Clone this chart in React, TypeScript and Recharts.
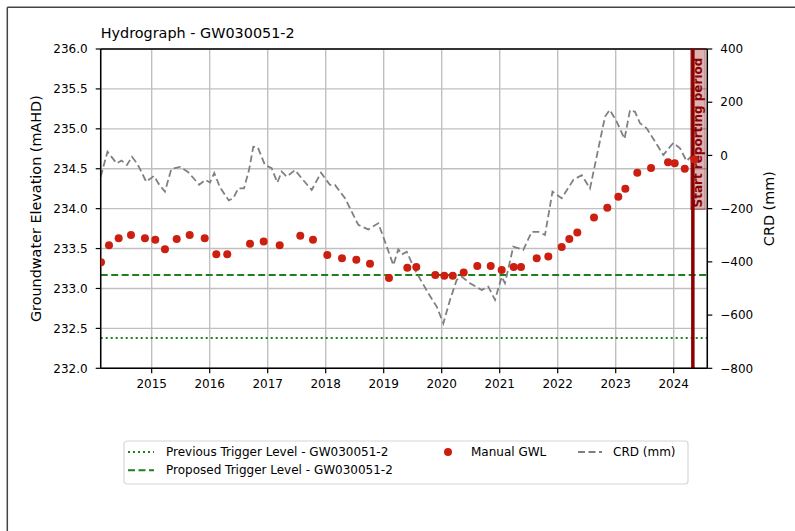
import {
  ComposedChart,
  Line,
  Scatter,
  XAxis,
  YAxis,
  CartesianGrid,
  ReferenceLine,
} from 'recharts'

const FONT = '"DejaVu Sans", Verdana, sans-serif'

// x values are decimal years
const yearTicks = [2015, 2016, 2017, 2018, 2019, 2020, 2021, 2022, 2023, 2024]
const gwlTicks = [232, 232.5, 233, 233.5, 234, 234.5, 235, 235.5, 236]
const crdTicks = [-800, -600, -400, -200, 0, 200, 400]

const gwlDates = [
  2014.126, 2014.264, 2014.431, 2014.643, 2014.884, 2015.062, 2015.229, 2015.431,
  2015.655, 2015.914, 2016.114, 2016.303, 2016.695, 2016.931, 2017.207, 2017.562,
  2017.781, 2018.028, 2018.281, 2018.528, 2018.764, 2019.091, 2019.407, 2019.562,
  2019.89, 2020.045, 2020.19, 2020.379, 2020.614, 2020.845, 2021.034, 2021.241,
  2021.367, 2021.638, 2021.838, 2022.069, 2022.2, 2022.338, 2022.626, 2022.855,
  2023.045, 2023.166, 2023.372, 2023.609, 2023.902, 2024.017, 2024.19, 2024.355,
]
const gwlValues = [
  233.33, 233.54, 233.63, 233.67, 233.63, 233.61, 233.49, 233.62,
  233.67, 233.63, 233.43, 233.43, 233.56, 233.59, 233.54, 233.66,
  233.61, 233.42, 233.38, 233.36, 233.31, 233.13, 233.26, 233.27,
  233.17, 233.16, 233.16, 233.2, 233.28, 233.28, 233.23, 233.27,
  233.27, 233.38, 233.4, 233.52, 233.62, 233.7, 233.89, 234.01,
  234.15, 234.25, 234.45, 234.51, 234.58, 234.57, 234.5, 234.62,
]

const crdDates = [
  2014.121, 2014.238, 2014.397, 2014.479, 2014.574, 2014.66, 2014.755, 2014.907,
  2015.04, 2015.122, 2015.229, 2015.338, 2015.488, 2015.626, 2015.819, 2015.924,
  2016.005, 2016.079, 2016.178, 2016.328, 2016.407, 2016.493, 2016.591, 2016.678,
  2016.752, 2016.828, 2016.953, 2017.069, 2017.166, 2017.241, 2017.328, 2017.471,
  2017.586, 2017.759, 2017.919, 2018.074, 2018.16, 2018.333, 2018.562, 2018.734,
  2018.907, 2019.022, 2019.166, 2019.252, 2019.316, 2019.397, 2019.54, 2019.769,
  2019.914, 2020.028, 2020.143, 2020.259, 2020.345, 2020.488, 2020.69, 2020.803,
  2020.919, 2021.034, 2021.091, 2021.234, 2021.407, 2021.552, 2021.666, 2021.781,
  2021.91, 2022.069, 2022.269, 2022.414, 2022.557, 2022.816, 2022.897, 2023.017,
  2023.152, 2023.247, 2023.333, 2023.419, 2023.534, 2023.821, 2023.993, 2024.109,
  2024.221, 2024.338, 2024.4,
]
const crdValues = [
  -80, 14, -30, -19, -36, -5, -32, -99,
  -77, -107, -136, -51, -43, -62, -110, -92,
  -102, -66, -120, -169, -161, -124, -124, -55,
  33, 31, -36, -48, -102, -61, -80, -55,
  -86, -130, -65, -111, -111, -161, -261, -278,
  -255, -324, -412, -353, -372, -362, -431, -518,
  -568, -631, -543, -468, -456, -480, -506, -493,
  -543, -456, -480, -343, -355, -287, -287, -299,
  -136, -161, -92, -74, -124, 146, 171, 127,
  62, 171, 164, 121, 102, 2, 47, 27,
  -21, 4, 20,
]

const previousTrigger = 232.38
const proposedTrigger = 233.17
const reportingStart = 2024.33
const xDomain = [2014.121, 2024.579]

const gwlData = gwlDates.map((x, i) => ({ x, gwl: gwlValues[i] }))
const crdData = crdDates.map((x, i) => ({ x, crd: crdValues[i] }))

const GREEN = '#1f7f1f'
const RED = '#cc1f10'
const DARKRED = '#8b0000'
const GREY = '#808080'

const tickStyle = { fontSize: 12, fill: '#000', fontFamily: FONT }

function StartLabel(props: any) {
  const { x, y } = props.viewBox
  return (
    <g>
      <rect x={x - 2.2} y={y} width={14.5} height={160.5} fill="rgba(139,0,0,0.3)" stroke="rgba(139,0,0,0.45)" strokeWidth={1} />
      <text
        transform={`translate(${x + 5.6},${y + 158.5}) rotate(-90)`}
        fontSize={12}
        fontWeight="bold"
        fontFamily={FONT}
        fill={DARKRED}
        dominantBaseline="central"
      >
        Start reporting period
      </text>
    </g>
  )
}

function AxisTitle({ viewBox, dx, text }: any) {
  const cx = viewBox.x + dx
  const cy = viewBox.y + viewBox.height / 2
  return (
    <text
      transform={`translate(${cx},${cy}) rotate(-90)`}
      textAnchor="middle"
      dominantBaseline="central"
      fontSize={14.4}
      fontFamily={FONT}
      fill="#000"
    >
      {text}
    </text>
  )
}

function LegendBox() {
  return (
    <svg width={566} height={45} style={{ position: 'absolute', left: 123, top: 440, fontFamily: FONT }}>
      <rect x={1} y={1} width={564} height={43} rx={3} fill="#fff" fillOpacity={0.8} stroke="#d6d6d6" strokeWidth={1.2} />
      <line x1={5} x2={31} y1={12} y2={12} stroke={GREEN} strokeWidth={2} strokeDasharray="2 3" />
      <text x={43} y={12} fontSize={12} dominantBaseline="central">Previous Trigger Level - GW030051-2</text>
      <line x1={5} x2={31} y1={30.3} y2={30.3} stroke={GREEN} strokeWidth={2} strokeDasharray="7 3.5" />
      <text x={43} y={30.3} fontSize={12} dominantBaseline="central">Proposed Trigger Level - GW030051-2</text>
      <circle cx={325} cy={12} r={4} fill={RED} />
      <text x={348} y={12} fontSize={12} dominantBaseline="central">Manual GWL</text>
      <line x1={455} x2={479} y1={12} y2={12} stroke={GREY} strokeWidth={1.8} strokeDasharray="7 3.5" />
      <text x={490} y={12} fontSize={12} dominantBaseline="central">CRD (mm)</text>
    </svg>
  )
}

export default function App() {
  return (
    <div style={{ position: 'absolute', left: 0, top: 0, width: 795, height: 531, background: '#fff' }}>
      <ComposedChart width={795} height={531} margin={{ top: 49, right: 0, bottom: 132.7, left: 0 }}>
        <CartesianGrid yAxisId="left" stroke="#c0c0c0" strokeWidth={1.4} />
        <XAxis
          dataKey="x"
          type="number"
          domain={xDomain}
          allowDataOverflow
          ticks={yearTicks}
          tickFormatter={(v: number) => String(Math.round(v))}
          height={30}
          tick={tickStyle}
          tickSize={5}
          tickMargin={6}
          axisLine={{ stroke: '#000', strokeWidth: 1.5 }}
          tickLine={{ stroke: '#000', strokeWidth: 1.2 }}
        />
        <YAxis
          yAxisId="left"
          orientation="left"
          domain={[232, 236]}
          ticks={gwlTicks}
          allowDataOverflow
          tickFormatter={(v: number) => v.toFixed(1)}
          width={100.7}
          tick={tickStyle}
          tickSize={5}
          tickMargin={8}
          axisLine={{ stroke: '#000', strokeWidth: 1.5 }}
          tickLine={{ stroke: '#000', strokeWidth: 1.2 }}
          label={{ content: (p: any) => <AxisTitle viewBox={p.viewBox} dx={35.5} text="Groundwater Elevation (mAHD)" /> }}
        />
        <YAxis
          yAxisId="right"
          orientation="right"
          domain={[-800, 400]}
          ticks={crdTicks}
          allowDataOverflow
          tickFormatter={(v: number) => String(v).replace('-', '\u2212')}
          width={87.7}
          tick={tickStyle}
          tickSize={5}
          tickMargin={8}
          axisLine={{ stroke: '#000', strokeWidth: 1.5 }}
          tickLine={{ stroke: '#000', strokeWidth: 1.2 }}
          label={{ content: (p: any) => <AxisTitle viewBox={p.viewBox} dx={62} text="CRD (mm)" /> }}
        />
        <ReferenceLine yAxisId="left" y={236} stroke="#000" strokeWidth={1.5} />
        <ReferenceLine yAxisId="left" y={previousTrigger} stroke={GREEN} strokeWidth={2} strokeDasharray="2 3" />
        <ReferenceLine yAxisId="left" y={proposedTrigger} stroke={GREEN} strokeWidth={2} strokeDasharray="7 3.5" />
        <Line
          yAxisId="right"
          data={crdData}
          dataKey="crd"
          type="linear"
          stroke={GREY}
          strokeWidth={1.8}
          strokeDasharray="7 3.5"
          dot={false}
          activeDot={false}
          isAnimationActive={false}
        />
        <Scatter
          yAxisId="left"
          data={gwlData}
          dataKey="gwl"
          fill={RED}
          shape={(p: any) => <circle cx={p.cx} cy={p.cy} r={4} fill={RED} />}
          isAnimationActive={false}
        />
        <ReferenceLine
          yAxisId="left"
          x={reportingStart}
          stroke={DARKRED}
          strokeWidth={3.5}
          label={<StartLabel />}
        />
      </ComposedChart>
      <svg width={795} height={531} style={{ position: 'absolute', left: 0, top: 0, pointerEvents: 'none' }}>
        <line x1={7.3} x2={795} y1={7.3} y2={7.3} stroke="#444" strokeWidth={1.5} />
        <line x1={7.3} x2={7.3} y1={7.3} y2={531} stroke="#444" strokeWidth={1.5} />
        <text x={100.7} y={38.3} fontSize={14.4} fontFamily={FONT} fill="#000">
          Hydrograph - GW030051-2
        </text>
      </svg>
      <LegendBox />
    </div>
  )
}
